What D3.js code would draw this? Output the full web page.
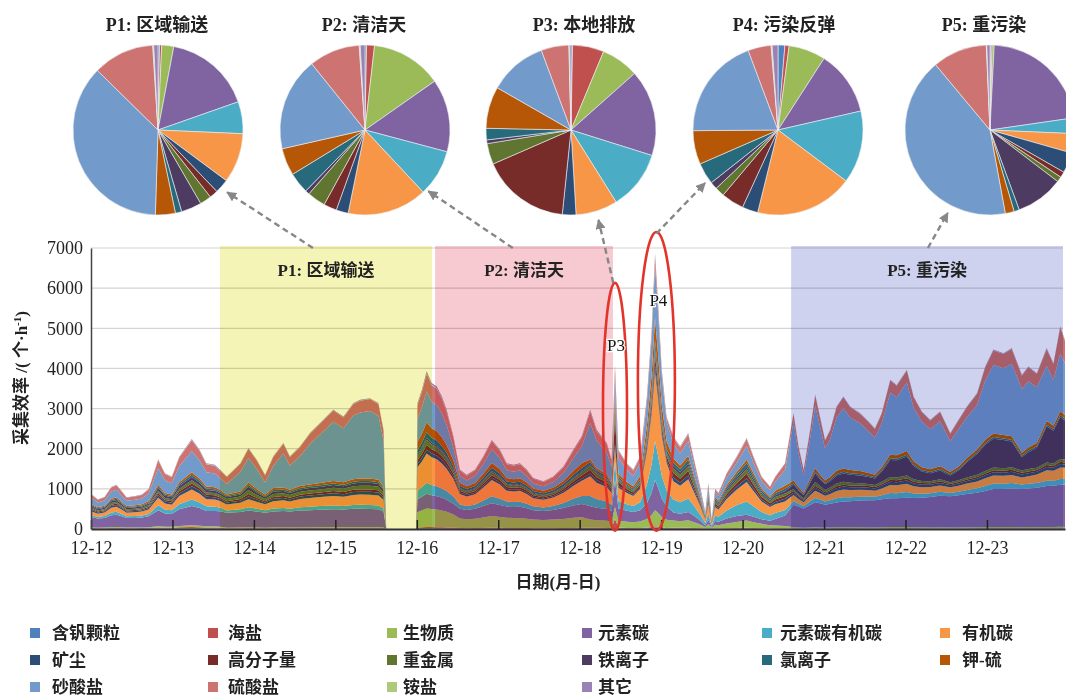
<!DOCTYPE html>
<html>
<head>
<meta charset="utf-8">
<script src="https://cdn.jsdelivr.net/npm/d3@7"></script>
<style>
  body { margin: 0; background: #fff; }
  svg { display: block; }
</style>
</head>
<body>
<svg id="chart" width="1066" height="700"></svg>
<script>
// ---- time axis: hours since 12-12 00:00 ----
const hours = [0,2,4,6,7.5,9,10.5,13,15,17,19.8,21.8,23.8,26,29.7,32,34,36.5,38,40,44,46.4,48.8,51.3,53.7,56.7,58.6,61.6,64.5,67.5,71.4,74.4,77.3,79.3,82.2,84.7,86.2,87,95.8,96.2,97.5,98.9,100.4,101.9,103.4,104.8,106.8,108.7,110.7,113.2,115.6,118.1,120.5,122.5,124.5,126.4,128.4,130.3,133.3,136.2,139.2,142.1,144.6,147.1,149,152,153.4,154.4,155.4,157.9,159.8,161.8,163.8,165.2,166.2,167,168.2,169.6,171.6,173.6,176,177.5,179.5,181,181.9,182.9,183.9,184.9,187.3,190.3,193.2,195.2,197.6,200.1,201.6,204.5,207,208.5,210,211.9,213.4,214.8,216.3,217.8,219.7,221.7,223.7,226.6,229.1,231,233,235.5,237.4,240.4,242.4,244.8,247.3,250.2,253.2,255.6,258.1,261.1,263.5,265.9,268.9,271.3,274.3,276.2,278.7,281.6,283.6,285.6,287];

// ---- particle classes (stack order, bottom to top) ----
const seriesNames = ["含钒颗粒","海盐","生物质","元素碳","元素碳有机碳","有机碳","矿尘","高分子量","重金属","铁离子","氯离子","钾-硫","砂酸盐","硫酸盐","铵盐","其它"];
const seriesColors = ["#4f81bd","#c0504d","#9bbb59","#8064a2","#4bacc6","#f79646","#2c4d75","#772c2a","#5f7530","#4d3b62","#276a7c","#b65708","#729aca","#cd7371","#afc97a","#9983b5"];

// ---- collection rate per class (particles per hour) ----
const sVanadium = [9,8,8,10,10,9,8,8,9,10, 15,13,12,16,20,18,15,15,13,8, 9,10,9,8,9,10,9,10,10,11, 11,11,12,12,12,12,10,0,0,15, 16,18,17,16,15,14,12,8,8,8, 10,12,11,9,9,9,8,7,7,7, 8,10,12,12,11,10,9,12,10,9, 8,10,16,25,35,30,20,14,12,11, 12,9,6,3,6,2,5,5,7,9, 11,9,7,5,6,7,5,5,4,5, 6,5,5,5,6,6,6,6,5,5, 6,7,7,7,6,6,5,6,5,5, 6,6,7,7,7,7,6,7,6,7, 7,8,8];
const sSeaSalt = [13,11,12,15,16,14,12,12,13,15, 25,20,19,26,32,28,24,23,18,10, 11,12,11,10,11,12,11,12,12,13, 13,13,14,14,14,14,12,0,0,25, 28,32,30,29,27,25,20,14,13,14, 17,21,19,15,15,15,14,12,11,12, 14,18,21,22,19,17,15,245,30,18, 15,16,16,25,35,30,20,14,20,18, 20,16,10,4,11,3,10,9,13,17, 21,17,12,10,12,14,10,8,7,9, 10,9,8,9,10,10,10,9,9,8, 9,11,11,12,10,9,9,9,8,9, 9,10,11,12,12,12,11,11,11,12, 11,13,12];
const sBiomass = [18,15,16,20,22,19,16,17,17,20, 30,25,24,32,40,35,30,29,24,15, 16,18,16,14,16,17,16,17,18,18, 19,18,19,20,20,19,16,0,0,380, 420,460,450,440,420,390,330,240,225,235, 260,290,270,255,250,250,235,215,205,215, 230,250,260,200,190,180,160,290,170,155, 145,160,220,300,400,350,260,200,180,165, 185,150,95,40,100,24,90,80,120,150, 180,145,110,80,70,55,30,25,20,25, 28,26,24,25,27,28,27,26,25,24, 26,30,29,30,28,26,25,26,24,25, 26,27,29,30,30,30,28,29,28,30, 29,32,31];
const sEC = [260,225,240,300,310,275,235,240,250,270, 400,330,320,420,480,440,380,380,390,370, 390,420,400,370,400,410,400,420,430,440, 450,445,460,460,455,450,400,0,0,320, 340,370,345,330,315,300,270,240,230,245, 285,320,300,280,275,280,260,235,225,240, 270,310,330,335,310,290,260,675,300,270, 255,280,390,560,750,640,460,340,200,185, 205,165,100,42,108,25,95,88,120,150, 140,135,115,110,160,260,560,520,480,560, 620,600,570,590,620,640,650,670,680,680, 700,720,720,730,730,740,760,790,780,800, 830,860,900,950,950,960,950,960,980,1020, 1030,1050,1060];
const sECOC = [50,42,46,65,70,58,46,48,50,60, 120,95,90,125,160,140,115,110,90,60, 65,80,70,62,72,75,70,80,85,88, 92,88,95,96,95,92,80,0,0,220, 240,270,255,250,235,215,175,110,100,110, 140,175,155,125,122,125,112,95,90,100, 125,165,200,250,215,190,160,460,190,165, 150,200,460,700,970,820,560,400,320,290, 335,255,150,60,162,35,140,125,200,270, 330,260,180,140,150,140,90,70,55,90, 110,95,80,90,100,105,100,95,90,85, 100,130,125,140,110,95,90,95,80,90, 100,110,125,135,130,135,115,120,120,135, 125,140,135];
const sOC = [95,80,88,120,128,108,86,90,95,110, 190,150,140,200,250,220,180,175,160,150, 165,200,175,150,185,195,180,210,220,225, 240,230,250,255,260,250,210,0,0,580, 640,730,690,670,620,560,440,260,235,255, 320,400,355,270,265,272,245,205,190,210, 255,320,380,495,410,360,290,330,330,280, 250,330,820,1250,1720,1450,990,680,460,410, 480,360,210,85,228,50,200,180,290,390, 490,380,260,200,220,210,150,120,100,150, 180,160,140,155,185,195,180,170,160,150, 170,200,195,210,180,165,155,160,140,150, 160,170,190,200,195,200,175,190,210,260, 250,290,280];
const sDust = [35,30,32,42,44,38,32,33,34,40, 65,52,50,68,85,75,62,60,55,45, 50,70,55,45,58,55,52,58,60,62, 66,63,70,72,72,70,58,0,0,80, 88,100,92,90,84,76,60,38,34,37, 46,56,50,42,41,42,38,32,30,33, 40,50,58,70,60,52,44,105,50,42, 38,46,82,125,170,145,100,72,90,80, 94,71,42,17,45,10,40,36,55,70, 90,72,52,42,55,65,60,50,40,60, 75,65,55,60,70,72,68,64,60,56, 64,80,78,82,70,62,58,62,52,56, 62,68,75,80,78,80,70,72,70,80, 74,85,80];
const sHighMass = [27,22,24,32,34,29,24,25,26,30, 50,40,38,52,65,57,47,46,42,35, 40,60,45,35,48,45,42,46,48,50, 54,52,56,58,58,56,46,0,0,95, 105,118,110,105,98,88,70,45,40,44, 55,68,60,50,49,50,45,38,36,39, 47,60,70,90,75,66,55,690,90,55, 48,60,115,175,240,200,140,98,115,100, 118,89,52,21,56,12,50,45,70,90, 115,92,66,52,65,70,40,30,25,40, 50,42,35,38,45,46,44,42,40,38, 42,50,48,52,44,40,38,40,34,36, 40,44,48,50,49,50,44,46,44,50, 46,55,52];
const sHeavyMetal = [35,30,32,42,44,38,32,33,34,40, 60,50,47,64,80,70,58,57,55,55, 62,100,70,52,75,70,65,72,76,80, 85,82,90,92,94,90,74,0,0,100, 110,125,115,110,102,92,72,48,44,48, 60,74,66,55,54,55,50,42,40,44, 53,66,78,100,85,74,60,165,66,56, 50,55,50,75,100,85,60,44,110,98, 114,86,50,20,54,12,48,43,66,86, 110,88,62,50,60,65,50,40,32,60, 90,70,55,60,70,72,66,60,55,50, 58,70,68,72,60,52,48,52,42,46, 50,56,62,66,64,66,56,58,56,64, 58,70,66];
const sIron = [36,30,33,44,46,40,32,33,35,40, 65,52,50,68,85,75,62,60,52,45, 50,80,58,44,60,58,54,58,60,62, 66,64,70,72,72,70,58,0,0,40, 44,50,46,45,42,38,30,18,16,18, 22,27,24,20,19,20,18,15,14,15, 18,23,27,35,30,26,21,30,22,19, 17,22,40,60,80,70,48,34,65,58, 68,51,30,12,32,7,28,25,40,52, 65,52,38,32,45,60,110,90,75,150, 220,170,140,160,200,210,200,190,170,160, 250,420,430,470,330,240,200,220,170,240, 380,520,650,720,700,640,330,420,500,900, 820,1050,980];
const sChloride = [26,22,24,30,32,28,23,24,25,28, 40,32,30,42,52,46,38,37,33,28, 30,45,35,28,36,35,33,36,37,38, 40,39,42,43,43,42,35,0,0,110, 120,135,125,120,112,100,80,55,50,55, 68,85,75,62,60,62,56,48,45,49, 58,72,85,60,52,46,38,90,45,40, 36,50,100,150,200,170,118,84,90,80, 94,71,42,17,45,10,40,36,55,72, 90,72,52,42,50,55,35,28,22,35, 40,35,30,32,38,40,38,36,34,32, 36,42,40,44,38,34,32,34,30,32, 34,36,40,42,41,42,38,40,38,42, 40,45,43];
const sKS = [28,24,26,33,35,30,25,26,27,32, 50,40,38,52,65,57,47,46,44,40, 45,65,50,40,52,50,47,52,54,56, 60,58,62,64,65,62,52,0,0,200, 220,250,235,230,215,195,150,75,68,75, 92,115,102,85,83,85,76,64,60,66, 78,100,116,65,58,52,45,330,70,60, 55,90,260,400,550,460,310,210,95,84, 98,74,43,17,46,10,40,36,56,72, 85,70,52,42,60,75,70,55,45,70, 85,75,65,70,80,82,78,74,70,66, 74,90,88,92,80,72,68,72,60,64, 70,76,84,88,86,88,78,80,78,88, 82,95,90];
const sSilicate = [154,120,132,180,187,157,131,139,146,190, 405,310,283,400,525,446,358,343,303,262, 489,610,508,300,550,848,603,739,1010,1211, 1473,1346,1587,1644,1677,1595,1159,0,0,583, 662,767,660,656,590,497,311,175,146,182, 246,341,276,195,183,196,163,125,109,139, 199,319,421,906,682,539,382,437,398,302, 262,322,584,900,1316,1083,712,487,358,305, 364,259,139,56,155,29,129,115,182,230, 338,261,189,159,227,391,1462,834,433,999, 1557,1200,797,944,1331,1505,1310,1190,1040,925, 1097,1548,1440,1707,1335,1136,995,1116,759,930, 1015,1108,1477,1707,1665,1807,1589,1645,1388,1379, 1136,1442,1289];
const sSulfate = [80,70,75,100,105,92,76,80,85,100, 200,160,150,210,270,240,200,195,180,170, 200,230,210,175,220,240,210,230,250,265, 280,270,290,295,300,295,240,0,0,340, 380,440,410,400,370,330,250,130,120,130, 160,200,180,150,148,152,136,116,108,120, 140,180,215,280,230,200,160,215,170,140, 125,140,120,175,250,210,140,100,160,145, 168,127,75,30,80,17,70,63,95,125, 170,130,95,80,110,150,200,170,130,200, 260,230,200,215,250,270,255,240,225,215, 240,300,290,300,260,235,220,230,190,220, 250,280,330,360,350,370,330,350,330,420, 400,650,560];
const sAmmonium = [4,3,3,5,5,4,3,3,4,4, 7,6,5,7,9,8,7,7,6,5, 5,6,5,5,5,6,5,6,6,6, 6,6,7,7,7,7,6,0,0,12, 13,15,14,14,13,12,10,6,5,6, 7,9,8,7,7,7,6,5,5,5, 6,8,9,10,9,8,7,4,8,7, 6,7,7,10,14,12,8,6,7,6, 7,5,3,1,3,1,3,3,4,5, 7,5,4,3,4,5,3,3,2,3, 3,3,3,3,3,3,3,3,3,3, 3,4,4,4,3,3,3,3,3,3, 3,3,4,4,4,4,3,4,4,4, 4,5,5];
const sOther = [10,8,9,12,12,11,9,9,10,11, 18,15,14,18,22,20,17,17,15,12, 13,14,13,12,13,14,13,14,14,15, 15,15,16,16,16,16,14,0,0,40, 44,50,46,45,42,38,30,18,16,18, 22,27,24,20,20,20,18,16,15,16, 19,24,28,40,34,30,24,12,26,22, 20,22,20,30,40,35,24,17,28,25, 28,22,13,5,14,3,12,11,17,22, 28,22,16,13,16,18,15,12,10,14, 16,15,13,14,15,16,15,15,14,13, 15,18,17,18,16,15,14,15,13,14, 15,16,18,19,19,19,17,18,17,19, 18,20,19];

const seriesValues = [sVanadium,sSeaSalt,sBiomass,sEC,sECOC,sOC,sDust,sHighMass,sHeavyMetal,sIron,sChloride,sKS,sSilicate,sSulfate,sAmmonium,sOther];

// ---- composition (%) of each episode, same class order ----
const pieTitles = ["P1: 区域输送","P2: 清洁天","P3: 本地排放","P4: 污染反弹","P5: 重污染"];
const pieP1 = [0.3,0.4,2.3,16.7,6.1,9.5,2.7,1.6,2.2,3.9,1.2,3.8,37.0,11.7,0.2,0.8];
const pieP2 = [0.3,1.5,13.5,13.9,8.9,15.2,2.3,2.5,3.5,0.8,4.0,5.2,17.8,9.7,0.2,0.9];
const pieP3 = [0.3,6.0,7.2,16.5,11.3,8.0,2.6,16.9,4.0,0.7,2.2,8.0,11.1,5.3,0.1,0.3];
const pieP4 = [1.3,0.8,7.0,12.3,13.8,18.6,3.0,4.3,1.8,1.4,4.1,6.4,19.4,4.4,0.2,1.1];
const pieP5 = [0.2,0.2,0.4,22.0,3.0,3.7,3.9,1.1,1.0,9.1,1.0,1.7,42.0,10.4,0.1,0.6];
const pieValues = [pieP1,pieP2,pieP3,pieP4,pieP5];

// ---- axes ----
const yTicks = [0,1000,2000,3000,4000,5000,6000,7000];
const dayLabels = ["12-12","12-13","12-14","12-15","12-16","12-17","12-18","12-19","12-20","12-21","12-22","12-23"];

// ---- shaded episodes (hours) ----
const periodNames = ["P1: 区域输送","P2: 清洁天","P5: 重污染"];
const periodStart = [38.0, 101.4, 206.3];
const periodEnd = [100.5, 153.8, 286.4];
const periodFill = ["#f4f4b6","#f7c9d1","#cfd2ef"];

// ---- peak markers ----
const peakNames = ["P3","P4"];
const peakHour = [154.4, 166.6];
const peakTop = [6130, 7400];

// ================= drawing =================
const svg = d3.select("#chart");
const serif = "'Liberation Serif','Times New Roman','Noto Sans CJK SC',serif";

const x = d3.scaleLinear().domain([0, 287]).range([91, 1065]);
const y = d3.scaleLinear().domain([0, 7000]).range([529, 248]);

// grid lines
svg.append("g").selectAll("line").data(yTicks.slice(1)).join("line")
  .attr("x1", x(0)).attr("x2", 1063)
  .attr("y1", d => y(d)).attr("y2", d => y(d))
  .attr("stroke", "#d9d2d2").attr("stroke-width", 1.2);

// stacked areas
const rows = hours.map((h, i) => {
  const r = { h };
  seriesNames.forEach((n, k) => { r[n] = seriesValues[k][i]; });
  return r;
});
const stacked = d3.stack().keys(seriesNames)(rows);
const area = d3.area()
  .x(d => x(d.data.h))
  .y0(d => y(d[0]))
  .y1(d => y(d[1]));
svg.append("g").selectAll("path").data(stacked).join("path")
  .attr("d", area)
  .attr("fill", (d, i) => seriesColors[i]);

// episode shading, tinted over the areas
const shade = svg.append("g");
shade.selectAll("rect").data(periodNames).join("rect")
  .attr("x", (d, i) => x(periodStart[i]))
  .attr("width", (d, i) => x(periodEnd[i]) - x(periodStart[i]))
  .attr("y", y(7000) - 2)
  .attr("height", y(0) - y(7000) + 2)
  .attr("fill", (d, i) => periodFill[i])
  .style("mix-blend-mode", "multiply");
shade.selectAll("text").data(periodNames).join("text")
  .attr("x", (d, i) => (x(periodStart[i]) + x(periodEnd[i])) / 2)
  .attr("y", 276)
  .attr("text-anchor", "middle")
  .attr("font-family", serif).attr("font-size", 17).attr("font-weight", 600)
  .attr("fill", "#222")
  .text(d => d);

// axes
const xAxis = d3.axisBottom(x)
  .tickValues(dayLabels.map((d, i) => i * 24))
  .tickFormat((d, i) => dayLabels[i])
  .tickSizeInner(-9).tickSizeOuter(0).tickPadding(12);
const gx = svg.append("g").attr("transform", `translate(0,${y(0)})`).call(xAxis);
gx.select(".domain").attr("stroke", "#333").attr("stroke-width", 2);
gx.selectAll(".tick line").attr("stroke", "#222").attr("stroke-width", 1.5);
gx.selectAll("text").attr("font-family", serif).attr("font-size", 18).attr("fill", "#222");

const yAxis = d3.axisLeft(y).tickValues(yTicks).tickFormat(d3.format("d")).tickSize(0).tickPadding(8);
const gy = svg.append("g").attr("transform", `translate(${x(0)},0)`).call(yAxis);
gy.select(".domain").attr("stroke", "#444").attr("stroke-width", 1.5);
gy.selectAll("text").attr("font-family", serif).attr("font-size", 18).attr("fill", "#222");

// axis titles
const yl = svg.append("text")
  .attr("transform", "translate(27,378) rotate(-90)")
  .attr("text-anchor", "middle")
  .attr("font-family", serif).attr("font-size", 17).attr("font-weight", 600).attr("fill", "#222");
yl.append("tspan").text("采集效率 /( 个·h");
yl.append("tspan").attr("baseline-shift", "super").attr("font-size", 11).text("-1");
yl.append("tspan").text(")");

svg.append("text").attr("x", 558).attr("y", 588).attr("text-anchor", "middle")
  .attr("font-family", serif).attr("font-size", 17).attr("font-weight", 600).attr("fill", "#222")
  .text("日期(月-日)");

// peak ellipses
const ell = svg.append("g");
ell.selectAll("ellipse").data(peakNames).join("ellipse")
  .attr("cx", (d, i) => x(peakHour[i]))
  .attr("cy", (d, i) => (y(peakTop[i]) + y(-40)) / 2)
  .attr("rx", (d, i) => i === 0 ? 12 : 18.5)
  .attr("ry", (d, i) => (y(-40) - y(peakTop[i])) / 2)
  .attr("fill", "none").attr("stroke", "#e3342c").attr("stroke-width", 2.6);
ell.selectAll("text").data(peakNames).join("text")
  .attr("x", (d, i) => x(peakHour[i]) + (i === 0 ? 1 : 2))
  .attr("y", (d, i) => i === 0 ? 351 : 306)
  .attr("text-anchor", "middle")
  .attr("font-family", serif).attr("font-size", 17).attr("fill", "#111")
  .attr("stroke", "#fff").attr("stroke-width", 2.5).attr("paint-order", "stroke")
  .text(d => d);

// pies
const pieCx = [158, 365, 571, 778, 990];
const pieTitleX = [157, 364, 584, 784, 984];
const pieR = 85;
const pie = d3.pie().sort(null).value(d => d);
const arc = d3.arc().innerRadius(0).outerRadius(pieR);
pieValues.forEach((vals, p) => {
  const g = svg.append("g").attr("transform", `translate(${pieCx[p]},130)`);
  g.selectAll("path").data(pie(vals)).join("path")
    .attr("d", arc)
    .attr("fill", (d, i) => seriesColors[i])
    .attr("stroke", "#eef0f4").attr("stroke-width", 0.6);
  svg.append("text").attr("x", pieTitleX[p]).attr("y", 31)
    .attr("text-anchor", "middle")
    .attr("font-family", serif).attr("font-size", 18).attr("font-weight", 600).attr("fill", "#222")
    .text(pieTitles[p]);
});

// dashed arrows from each episode to its composition pie
const arrowFromHour = [65.4, 124.3, peakHour[0] - 0.5, peakHour[1], 246.6];
const arrowFromValue = [7000, 7000, peakTop[0], peakTop[1] - 40, 7000];
const arrowAngle = [132, 134, 163, 234, 207];
const arrowDist = [93, 88, 94, 90, 93];
const defs = svg.append("defs");
defs.append("marker").attr("id", "head")
  .attr("viewBox", "0 0 10 10").attr("refX", 9).attr("refY", 5)
  .attr("markerWidth", 4.2).attr("markerHeight", 4.2).attr("orient", "auto")
  .append("path").attr("d", "M0,0 L10,5 L0,10 z").attr("fill", "#878787");
const arrows = svg.append("g");
arrowAngle.forEach((a, i) => {
  const rad = a * Math.PI / 180;
  const ex = pieCx[i] + arrowDist[i] * Math.sin(rad);
  const ey = 130 - arrowDist[i] * Math.cos(rad);
  arrows.append("line")
    .attr("x1", x(arrowFromHour[i])).attr("y1", y(arrowFromValue[i]))
    .attr("x2", ex).attr("y2", ey)
    .attr("stroke", "#878787").attr("stroke-width", 2.4)
    .attr("stroke-dasharray", "6,4")
    .attr("marker-end", "url(#head)");
});

// legend
const legCols = [30, 208, 387, 582, 762, 940];
const legTextX = [52, 228, 403, 598, 780, 962];
const legRows = [633, 660, 687];
const leg = svg.append("g");
seriesNames.forEach((n, i) => {
  const c = i % 6, r = Math.floor(i / 6);
  leg.append("rect").attr("x", legCols[c]).attr("y", legRows[r] - 5)
    .attr("width", 10).attr("height", 10).attr("fill", seriesColors[i]);
  leg.append("text").attr("x", legTextX[c]).attr("y", legRows[r] + 6)
    .attr("font-family", serif).attr("font-size", 17).attr("font-weight", 700).attr("fill", "#222")
    .text(n);
});
</script>
</body>
</html>
